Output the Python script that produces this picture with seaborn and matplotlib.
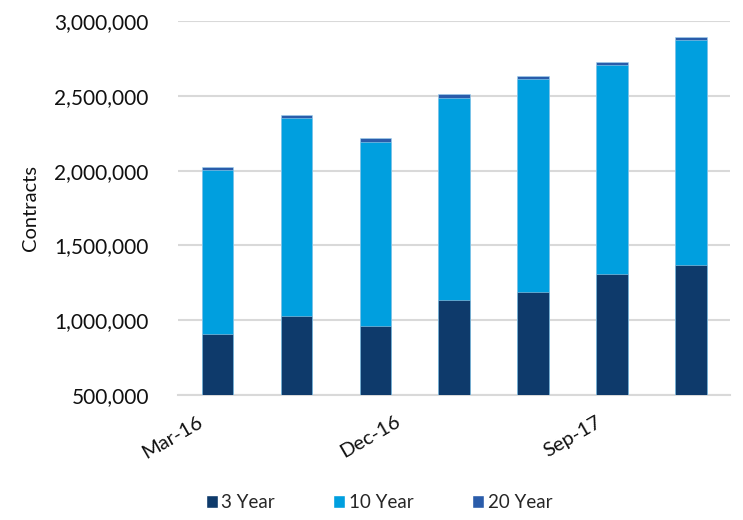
import matplotlib
matplotlib.use("Agg")
import matplotlib.pyplot as plt
import matplotlib.ticker as mticker
from matplotlib.patches import Patch
import seaborn as sns
import pandas as pd

periods = ["Mar-16", "Jun-16", "Sep-16", "Dec-16", "Mar-17", "Jun-17", "Sep-17"]
year3 = [905000, 1028000, 963000, 1137000, 1190000, 1307000, 1367000]
year10 = [1100000, 1324000, 1228000, 1350000, 1422000, 1401000, 1504000]
year20 = [20000, 20000, 27000, 25000, 20000, 18000, 20000]
tick_labels = ["Mar-16", "Dec-16", "Sep-17"]
tick_pos = [-0.15, 2.36, 4.9]

colors = {"3 Year": "#0E3A6B", "10 Year": "#009FDF", "20 Year": "#2A5CAA"}

df = pd.DataFrame({"period": periods, "3 Year": year3, "10 Year": year10, "20 Year": year20})
df["c3"] = df["3 Year"]
df["c10"] = df["c3"] + df["10 Year"]
df["c20"] = df["c10"] + df["20 Year"]

sns.set_theme(style="white")
plt.rcParams["font.family"] = ["Lato", "DejaVu Sans"]

fig = plt.figure(figsize=(7.43, 5.20), dpi=100)
ax = fig.add_axes([0.2396, 0.2404, 0.7434, 0.7192])

for col, name in [("c20", "20 Year"), ("c10", "10 Year"), ("c3", "3 Year")]:
    sns.barplot(data=df, x="period", y=col, color=colors[name], width=0.4,
                saturation=1, ax=ax, edgecolor="#9fd3f0", linewidth=0.4, zorder=3)

ax.set_ylim(500000, 3000000)
ax.set_xlim(-0.5, 6.5)
ax.yaxis.set_major_locator(mticker.MultipleLocator(500000))
ax.yaxis.set_major_formatter(mticker.FuncFormatter(lambda v, p: f"{int(v):,}"))
ax.grid(axis="y", color="#D9D9D9", linewidth=1.5, zorder=0)
ax.set_axisbelow(True)
for s in ["top", "right", "left"]:
    ax.spines[s].set_visible(False)
ax.spines["bottom"].set_color("#D9D9D9")
ax.spines["bottom"].set_linewidth(1.5)

ax.set_xticks(tick_pos)
ax.set_xticklabels(tick_labels, rotation=30, ha="right", fontsize=14.5, color="#111111")
ax.tick_params(axis="x", length=0, pad=13)
ax.tick_params(axis="y", length=0, pad=21, labelsize=15, labelcolor="#111111")
ax.set_xlabel("")
ax.set_ylabel("Contracts", fontsize=14.5, color="#111111", labelpad=11)

handles = [Patch(facecolor=colors[n], label=n) for n in ["3 Year", "10 Year", "20 Year"]]
fig.legend(handles=handles, loc="center", bbox_to_anchor=(0.51, 0.033), ncol=3,
           frameon=False, fontsize=13.5, handlelength=0.65, handleheight=0.65,
           handletextpad=0.2, columnspacing=3.1)

fig.savefig("out.png", dpi=100)
